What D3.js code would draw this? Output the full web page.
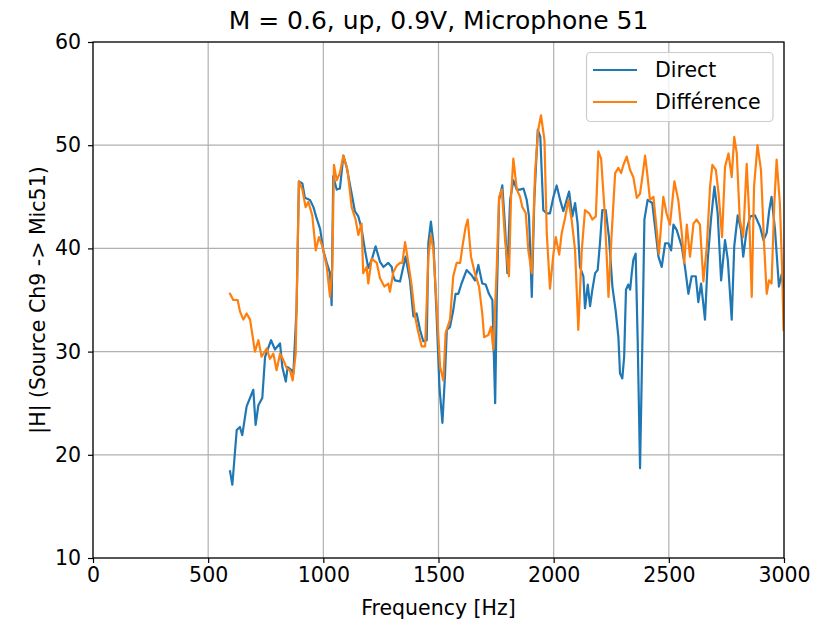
<!DOCTYPE html>
<html>
<head>
<meta charset="utf-8">
<script src="https://cdn.jsdelivr.net/npm/d3@7"></script>
<style>
  body { margin: 0; background: #fff; }
  svg { display: block; font-family: "DejaVu Sans", sans-serif; }
</style>
</head>
<body>
<svg id="chart" width="819" height="625"></svg>
<script>
const title = "M = 0.6, up, 0.9V, Microphone 51";
const xLabel = "Frequency [Hz]";
const yLabel = "|H| (Source Ch9 -> Mic51)";
const xTicks = [0, 500, 1000, 1500, 2000, 2500, 3000];
const yTicks = [10, 20, 30, 40, 50, 60];
const seriesNames = ["Direct", "Différence"];

const freqDirect = [595,605,624,638,648,667,696,706,718,735,747,773,790,812,822,837,845,862,870,884,894,909,920,942,957,971,986,1000,1015,1029,1036,1043,1058,1072,1087,1101,1123,1137,1152,1166,1181,1195,1210,1227,1246,1261,1282,1297,1304,1311,1333,1347,1357,1376,1391,1405,1420,1434,1449,1456,1467,1478,1492,1504,1517,1528,1536,1550,1564,1574,1586,1600,1622,1644,1658,1673,1690,1705,1719,1734,1746,1753,1763,1777,1789,1799,1811,1825,1840,1854,1869,1883,1893,1905,1916,1931,1942,1955,1970,1984,1999,2013,2028,2042,2067,2081,2093,2104,2114,2129,2136,2148,2158,2168,2180,2191,2201,2211,2226,2240,2255,2269,2281,2288,2298,2306,2314,2324,2332,2339,2346,2356,2365,2375,2385,2394,2408,2428,2440,2455,2469,2484,2498,2510,2520,2534,2556,2570,2585,2599,2617,2628,2640,2657,2669,2683,2698,2712,2727,2744,2756,2773,2784,2799,2813,2823,2838,2853,2874,2896,2911,2925,2936,2946,2961,2978,2990,2998];
const valDirect = [18.4,17.1,22.4,22.7,21.9,24.7,26.3,22.9,24.8,25.5,29.5,31.1,30.2,30.8,28.5,27.1,28.5,28.2,27.9,34.3,46.5,46.3,44.9,44.7,44.0,42.9,41.9,39.8,38.6,37.6,34.5,47.0,45.7,45.8,49.0,47.9,45.3,43.6,43.1,41.9,39.8,38.1,38.9,40.2,38.7,38.2,38.6,38.2,37.3,36.9,36.8,38.2,39.2,36.9,33.4,33.7,32.1,31.0,31.1,40.5,42.6,40.5,33.4,26.6,23.1,27.6,32.1,32.4,34.0,35.6,35.6,36.6,37.9,37.4,36.9,38.4,36.6,36.5,35.6,35.0,25.0,35.0,44.7,46.1,42.1,37.6,44.7,46.6,45.7,45.7,45.8,44.7,43.1,35.3,44.7,51.5,50.8,43.7,43.4,43.4,45.0,46.1,44.7,43.6,45.5,43.1,44.4,42.4,38.2,37.3,34.2,36.5,34.4,36.0,37.6,37.9,40.5,43.7,43.7,41.1,36.3,34.0,31.4,27.9,27.4,29.5,36.0,36.5,36.0,37.6,38.9,39.5,30.8,18.7,30.8,42.8,44.7,44.4,42.1,39.2,38.2,40.5,40.5,39.8,42.3,41.8,40.2,38.2,35.6,37.3,37.3,34.8,36.6,33.1,38.9,42.8,46.0,43.4,36.9,40.8,38.9,33.1,40.2,43.2,41.8,39.2,41.8,43.1,43.2,42.1,40.8,41.5,43.7,45.0,41.8,36.3,37.5,36.2];

const freqDiff = [595,609,628,638,653,667,682,703,718,732,754,768,783,797,812,826,841,855,867,880,894,909,923,935,952,967,981,996,1015,1029,1039,1046,1058,1072,1087,1105,1123,1140,1152,1166,1173,1188,1195,1210,1232,1246,1265,1282,1289,1304,1318,1333,1343,1355,1369,1384,1398,1413,1427,1442,1456,1467,1478,1492,1507,1521,1531,1550,1564,1579,1594,1604,1618,1627,1641,1658,1676,1690,1698,1716,1728,1738,1753,1763,1775,1789,1806,1815,1825,1840,1854,1864,1879,1890,1905,1919,1933,1945,1960,1970,1984,1999,2009,2024,2035,2049,2064,2078,2093,2107,2122,2136,2154,2168,2183,2194,2206,2220,2231,2238,2252,2267,2281,2293,2303,2317,2332,2346,2361,2375,2385,2397,2408,2418,2433,2443,2457,2476,2490,2505,2524,2541,2556,2567,2578,2592,2607,2621,2635,2650,2665,2679,2689,2704,2716,2731,2744,2759,2773,2784,2795,2808,2823,2838,2848,2860,2870,2885,2900,2914,2925,2935,2946,2958,2968,2982,2992,2998];
const valDiff = [35.6,35.0,35.0,33.9,33.1,33.7,33.1,30.0,31.1,29.5,30.3,29.3,29.8,28.2,29.8,29.2,28.4,28.2,27.2,29.8,46.5,45.7,44.0,44.5,43.2,39.8,41.1,40.2,38.2,35.3,38.2,48.1,46.6,47.3,49.0,47.6,44.0,42.8,41.3,42.4,37.6,38.2,36.6,39.0,38.6,37.1,36.3,36.6,35.8,37.7,38.3,38.6,38.6,40.6,38.6,36.3,33.4,31.8,30.5,30.5,39.2,41.3,39.8,34.4,28.5,27.2,31.8,33.1,37.3,38.6,38.6,40.2,42.1,42.8,39.2,37.6,36.3,33.7,31.4,31.6,32.4,30.2,38.2,45.0,45.7,40.8,37.3,45.0,48.7,45.7,45.0,44.0,43.4,39.8,37.6,47.3,51.5,52.9,50.5,41.5,36.1,39.5,41.1,39.4,41.5,42.9,44.7,42.8,39.8,32.1,39.8,43.7,43.4,42.8,43.1,49.4,48.7,44.0,38.9,35.3,41.5,47.3,47.8,47.3,48.1,48.9,47.6,46.9,44.9,45.3,46.9,49.0,46.9,44.7,45.0,42.8,39.5,45.0,43.4,42.3,46.5,44.7,41.5,38.6,42.3,39.2,42.4,42.8,42.3,36.8,40.2,46.0,48.1,47.6,45.3,41.1,47.9,49.2,46.9,50.8,49.2,42.8,41.1,48.2,43.7,35.3,46.0,50.0,47.6,40.2,35.6,36.9,36.6,44.4,48.6,44.4,37.9,32.1];

const colors = ["#1f77b4", "#ff7f0e"];
const FS = 20.5, FT = 25;

const svg = d3.select("#chart");
const margin = {left: 93, right: 819 - 784, top: 42, bottom: 625 - 558};
const W = 819, H = 625;
const x = d3.scaleLinear().domain([0, 3000]).range([margin.left, W - margin.right]);
const y = d3.scaleLinear().domain([10, 60]).range([H - margin.bottom, margin.top]);

// grid
const grid = svg.append("g");
grid.selectAll("line.vx").data(xTicks).join("line")
  .attr("x1", d => x(d)).attr("x2", d => x(d))
  .attr("y1", y(10)).attr("y2", y(60))
  .attr("stroke", "#b0b0b0").attr("stroke-width", 1.2);
grid.selectAll("line.hy").data(yTicks).join("line")
  .attr("x1", x(0)).attr("x2", x(3000))
  .attr("y1", d => y(d)).attr("y2", d => y(d))
  .attr("stroke", "#b0b0b0").attr("stroke-width", 1.2);

// clip
svg.append("clipPath").attr("id", "clip").append("rect")
  .attr("x", x(0)).attr("y", y(60)).attr("width", x(3000) - x(0)).attr("height", y(10) - y(60));

const line = d3.line().x(d => x(d[0])).y(d => y(d[1]));
const series = [d3.zip(freqDirect, valDirect), d3.zip(freqDiff, valDiff)];
svg.append("g").attr("clip-path", "url(#clip)")
  .selectAll("path").data(series).join("path")
  .attr("d", line).attr("fill", "none")
  .attr("stroke", (d, i) => colors[i]).attr("stroke-width", 2.2)
  .attr("stroke-linejoin", "round").attr("stroke-linecap", "square");

// axes
const xAxis = d3.axisBottom(x).tickValues(xTicks).tickSize(5).tickPadding(4).tickFormat(d3.format("d"));
const yAxis = d3.axisLeft(y).tickValues(yTicks).tickSize(5).tickPadding(7).tickFormat(d3.format("d"));
const gx = svg.append("g").attr("transform", `translate(0,${y(10)})`).call(xAxis);
const gy = svg.append("g").attr("transform", `translate(${x(0)},0)`).call(yAxis);
[gx, gy].forEach(g => {
  g.select(".domain").remove();
  g.selectAll(".tick line").attr("stroke", "#000").attr("stroke-width", 1.2);
  g.selectAll(".tick text").attr("font-size", FS).attr("fill", "#000").attr("font-family", "DejaVu Sans");
});

// spines
svg.append("rect").attr("x", x(0)).attr("y", y(60))
  .attr("width", x(3000) - x(0)).attr("height", y(10) - y(60))
  .attr("fill", "none").attr("stroke", "#000").attr("stroke-width", 1.2);

// title & labels
svg.append("text").attr("x", (x(0) + x(3000)) / 2).attr("y", 29)
  .attr("text-anchor", "middle").attr("font-size", FT).text(title);
svg.append("text").attr("x", (x(0) + x(3000)) / 2).attr("y", 615)
  .attr("text-anchor", "middle").attr("font-size", FS).text(xLabel);
svg.append("text").attr("transform", `translate(45,${(y(10) + y(60)) / 2}) rotate(-90)`)
  .attr("text-anchor", "middle").attr("font-size", FS).text(yLabel);

// legend
const lg = svg.append("g");
lg.append("rect").attr("x", 586.5).attr("y", 52.5).attr("width", 186.5).attr("height", 69)
  .attr("rx", 4).attr("fill", "#fff").attr("fill-opacity", 0.8)
  .attr("stroke", "#cccccc").attr("stroke-width", 1.2);
seriesNames.forEach((name, i) => {
  const yy = 70 + i * 32;
  lg.append("line").attr("x1", 593).attr("x2", 637).attr("y1", yy).attr("y2", yy)
    .attr("stroke", colors[i]).attr("stroke-width", 2.2);
  lg.append("text").attr("x", 655).attr("y", yy + 7).attr("font-size", FS).text(name);
});
</script>
</body>
</html>
